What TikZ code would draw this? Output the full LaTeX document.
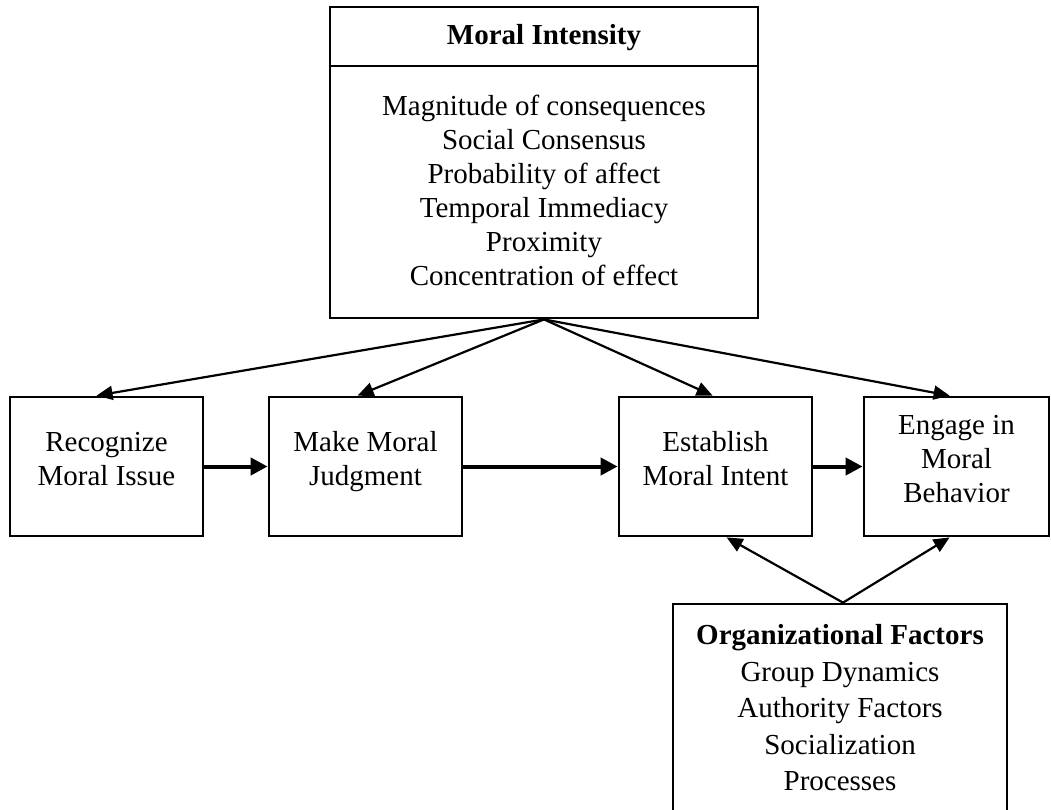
\documentclass[tikz,border=0pt]{standalone}
\usepackage{fontspec}
\setmainfont{Liberation Serif}
\usetikzlibrary{arrows.meta}
\begin{document}
\begin{tikzpicture}[x=1pt,y=-1pt,
  box/.style={draw, line width=2.8pt, inner sep=0pt},
  lbl/.style={align=center, inner sep=0pt, font=\fontsize{29}{34}\selectfont},
  feed/.style={line width=2.2pt, -{Triangle[length=16pt,width=14pt]}},
  flow/.style={line width=4pt, -{Triangle[length=17pt,width=17pt]}},
]
\useasboundingbox (0,0) rectangle (1051,809);
\clip (0,0) rectangle (1051,809);

% boxes
\node[box, minimum width=428pt, minimum height=311pt] (mi) at (544,162.5) {};
\draw[line width=2.2pt] ([yshift=-60pt]mi.north west) -- ([yshift=-60pt]mi.north east);
\node[box, minimum width=193pt, minimum height=139pt] (rec) at (106.5,466.5) {};
\node[box, minimum width=193pt, minimum height=139pt] (jud) at (365.5,466.5) {};
\node[box, minimum width=193pt, minimum height=139pt] (est) at (715.5,466.5) {};
\node[box, minimum width=185pt, minimum height=139pt] (eng) at (956.5,466.5) {};
\node[box, minimum width=334pt, minimum height=226pt] (org) at (840,717) {};

% texts
\node[lbl, font=\fontsize{29}{34}\selectfont\bfseries] (miT) at (544,38) {Moral Intensity};
\node[lbl] (miL) at (544,190) {Magnitude of consequences\\Social Consensus\\Probability of affect\\Temporal Immediacy\\Proximity\\Concentration of effect};
\node[lbl] (recT) at (106.5,459) {Recognize\\Moral Issue};
\node[lbl] (judT) at (365.5,462) {Make Moral\\Judgment};
\node[lbl] (estT) at (715.5,458.5) {Establish\\Moral Intent};
\node[lbl] (engT) at (956.5,459) {Engage in\\Moral\\Behavior};
\node[lbl, font=\fontsize{29}{36.5}\selectfont] (orgT) at (840,708) {\textbf{Organizational Factors}\\Group Dynamics\\Authority Factors\\Socialization\\Processes};

% influence of moral intensity
\draw[feed] (mi.south) -- ([xshift=88pt]rec.north west);
\draw[feed] (mi.south) -- ([xshift=90pt]jud.north west);
\draw[feed] (mi.south) -- ([xshift=95pt]est.north west);
\draw[feed] (mi.south) -- ([xshift=87pt]eng.north west);

% decision sequence
\draw[flow] (rec.east) -- (jud.west);
\draw[flow] (jud.east) -- (est.west);
\draw[flow] (est.east) -- (eng.west);

% organizational influence
\draw[feed] ([xshift=3pt]org.north) -- ([xshift=109pt]est.south west);
\draw[feed] ([xshift=3pt]org.north) -- ([xshift=87pt]eng.south west);
\end{tikzpicture}
\end{document}
